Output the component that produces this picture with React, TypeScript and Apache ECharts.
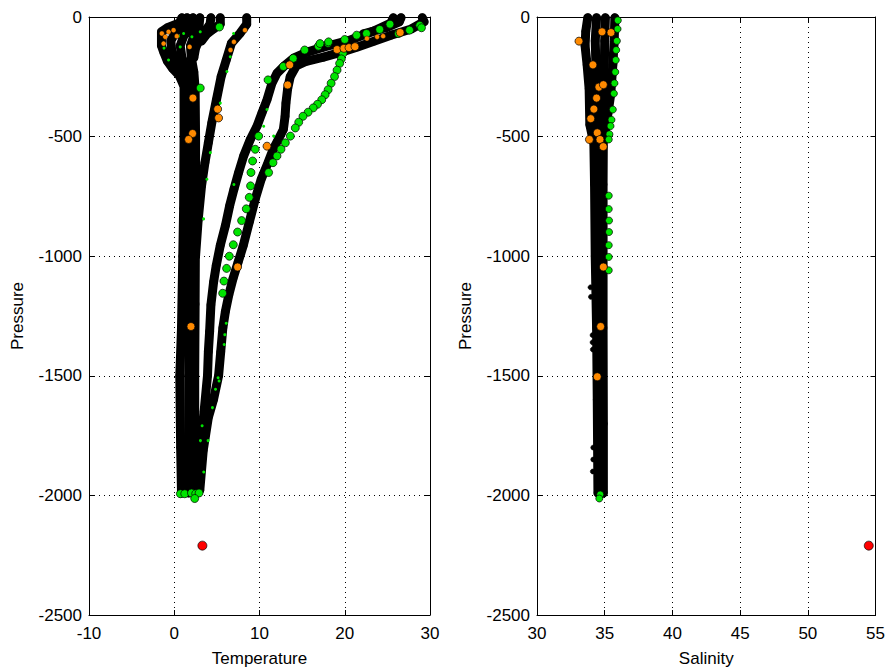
import { useEffect, useRef } from "react";
import * as echarts from "echarts";

// ---------------- Axis ranges ----------------
const tempTicks = { min: -10, max: 30, interval: 10 };
const presTicks = { min: -2500, max: 0, interval: 500 };
const salTicks = { min: 30, max: 55, interval: 5 };

// ---------------- Temperature panel: [temperature °C, pressure dbar] ----------------
const coldProfile1 = [[0.9,-3],[0.6,-25],[-0.8,-45],[-1.5,-62],[-1.5,-120],[-1.2,-150],[-0.8,-185],[-0.2,-215],[0.6,-245],[1.15,-290],[1.15,-500],[1.1,-800],[1.0,-1000],[0.85,-1300],[0.65,-1500],[0.75,-1800],[0.85,-1990]];
const coldProfile2 = [[1.5,-3],[1.2,-30],[0.2,-60],[-0.4,-100],[-0.3,-140],[0.3,-190],[1.3,-240],[1.8,-300],[1.8,-600],[1.8,-1000],[1.7,-1500],[1.7,-1990]];
const coldProfile3 = [[2.2,-3],[2.0,-40],[1.1,-80],[0.7,-120],[0.9,-170],[1.5,-220],[2.0,-280]];
const coldProfile4 = [[3.0,-3],[2.9,-40],[2.3,-80],[1.9,-120],[2.0,-170],[2.3,-230],[2.45,-300],[2.5,-500],[2.5,-800],[2.45,-1200],[2.4,-1500],[2.4,-1990]];
const coldProfile5 = [[4.3,-3],[4.2,-30],[3.6,-60],[3.0,-90],[2.5,-130],[2.3,-170]];
const coldProfile6 = [[5.4,-3],[5.4,-30],[4.6,-50],[3.8,-72],[3.2,-100]];
const midProfile = [[8.5,-3],[8.5,-30],[7.7,-69],[6.7,-110],[6.1,-180],[5.5,-249],[4.95,-346],[4.4,-443],[4.0,-526],[3.6,-609],[3.2,-706],[2.8,-850],[2.5,-1000]];
const warmProfile1 = [[25.7,-3],[25.4,-25],[23.2,-62],[20.5,-98],[17.5,-126],[15.5,-148],[14.0,-172],[12.9,-205],[12.05,-235],[11.46,-277],[10.88,-346],[10.29,-401],[9.7,-457],[8.92,-512],[8.14,-581],[7.55,-650],[7.0,-720],[6.5,-789],[6.0,-872],[5.4,-955],[4.93,-1038],[4.62,-1107],[4.3,-1204],[4.15,-1314],[4.0,-1400],[3.9,-1500],[3.5,-1650],[3.0,-1812],[2.6,-1978]];
const warmProfile2 = [[29.1,-3],[29.3,-20],[27.8,-50],[25.5,-75],[23.5,-100],[21.5,-125],[19.5,-148],[17.5,-168],[15.5,-185],[14.3,-205],[13.6,-250],[13.3,-300],[13.1,-360],[13.0,-415],[12.8,-470],[12.2,-512],[11.6,-553],[11.0,-609],[10.2,-678],[9.5,-761],[8.8,-858],[8.1,-955],[7.5,-1024],[6.9,-1093],[6.4,-1162],[6.0,-1231],[5.7,-1300],[5.45,-1400],[5.2,-1500],[4.6,-1600],[4.0,-1674],[3.4,-1812],[3.0,-1978]];
const warmProfile3 = [[26.6,-3],[26.4,-20],[24.8,-45],[22.2,-70]];

const greenTemp = [
  [16.9,-122],[18.05,-110],[20.0,-94],[21.4,-76],[22.55,-69],[24.1,-52],[25.3,-30],[26.3,-69],[27.6,-55],[28.8,-35],[29.0,-45],[17.1,-111],[18.1,-104],
  [19.8,-152],[19.6,-175],[19.4,-194],[19.1,-222],[18.8,-249],[18.4,-277],[18.05,-304],[17.7,-325],[17.3,-346],[16.8,-365],[16.3,-380],[15.7,-398],[15.1,-415],[14.6,-440],[14.2,-464],[13.62,-498],[13.03,-526],[12.52,-553],[12.05,-581],[11.58,-609],[11.07,-650],
  [9.9,-498],[9.5,-553],[9.19,-602],[9.0,-650],[8.95,-706],[8.8,-754],[8.45,-802],[7.9,-851],[7.43,-899],[6.93,-952],[6.46,-1000],[6.14,-1051],[5.83,-1104],[5.68,-1155],
  [5.3,-42],[3.05,-297],[15.3,-138],[13.95,-173],[12.8,-207],[11.0,-263],
  [0.72,-1993],[1.23,-1993],[2.02,-1990],[2.52,-1993],[2.91,-1990],[2.4,-2013],
];
const greenSpecksTemp = [
  [6.96,-69],[6.57,-166],[6.18,-228],[5.4,-360],[4.23,-567],[3.83,-678],[3.44,-844],
  [1.1,-69],[2.07,-83],[3.05,-62],[0.7,-125],[-0.67,-180],[-1.2,-130],[0.5,-80],
  [10.88,-387],[10.49,-457],[11.66,-498],[7.0,-700],
  [6.1,-1280],[5.93,-1328],[5.86,-1369],[5.14,-1508],[5.26,-1522],[4.84,-1556],[4.48,-1633],[3.27,-1709],[3.07,-1771],[3.97,-1771],[3.46,-1902],
];
const orangeTemp = [[26.5,-65],[19.1,-136],[19.9,-131],[20.5,-128],[21.2,-124],[13.54,-200],[13.3,-284],[10.88,-540],[7.43,-1045],[2.19,-339],[2.15,-487],[1.68,-512],[5.09,-385],[5.2,-422],[1.96,-1294]];
const orangeSmallTemp = [[-1.45,-69],[-1.06,-83],[-0.67,-62],[-0.08,-55],[-1.25,-111],[8.3,-55],[7.0,-104],[6.6,-138],[22.6,-90],[23.8,-83],[24.5,-80],[1.8,-125],[0.3,-80]];
const redTemp = [[3.3,-2210]];

// ---------------- Salinity panel: [salinity, pressure dbar] ----------------
const salProfile1 = [[33.75,-3],[33.6,-60],[33.55,-120],[33.7,-200],[33.85,-300],[33.9,-450],[34.2,-530],[34.25,-700],[34.3,-1000],[34.4,-1300],[34.45,-1600],[34.5,-1990]];
const salProfile2 = [[34.4,-3],[34.3,-100],[34.4,-300],[34.5,-500],[34.7,-600],[34.75,-1000],[34.8,-1500],[34.85,-1990]];
const salProfile3 = [[35.05,-3],[35.0,-100],[34.95,-300],[34.9,-500],[34.88,-700],[34.88,-1300],[34.9,-1700],[34.9,-1990]];
const salProfile4 = [[35.75,-3],[35.7,-100],[35.6,-200],[35.45,-320],[35.2,-420],[35.0,-500]];
const salBlackDots = [[33.95,-1130],[33.98,-1170],[34.1,-1330],[34.1,-1360],[34.12,-1390],[34.15,-1800],[34.15,-1850],[34.12,-1900]];
const greenSal = [[35.97,-14],[35.95,-50],[35.9,-100],[35.85,-138],[35.82,-180],[35.78,-230],[35.72,-277],[35.68,-320],[35.6,-387],[35.5,-430],[35.43,-456],[35.35,-490],[35.3,-512],[35.3,-747],[35.3,-803],[35.32,-851],[35.32,-899],[35.3,-954],[35.3,-1003],[35.3,-1059],[34.67,-1996],[34.6,-2013]];
const orangeSal = [[33.1,-101],[35.46,-65],[34.8,-62],[34.13,-200],[34.57,-293],[34.9,-283],[34.4,-339],[34.2,-385],[33.97,-425],[34.45,-484],[33.87,-512],[34.65,-512],[34.89,-542],[34.9,-1045],[34.7,-1294],[34.45,-1504]];
const redSal = [[54.5,-2210]];

const FONT = '"Liberation Sans", Arial, Helvetica, sans-serif';
const GREEN = "#00e400";
const ORANGE = "#ff8a00";
const RED = "#ff0000";

function blackLine(data: number[][], ax: number) {
  return {
    type: "line", xAxisIndex: ax, yAxisIndex: ax, data, silent: true, clip: false,
    symbol: "circle", symbolSize: 8, showSymbol: true, showAllSymbol: true,
    itemStyle: { color: "#000", borderColor: "#000", borderWidth: 0.5 },
    lineStyle: { color: "#000", width: 9, cap: "round", join: "round" },
    z: 2,
  };
}
function dots(data: number[][], ax: number, color: string, size: number, border = 0.7, z = 3) {
  return {
    type: "scatter", xAxisIndex: ax, yAxisIndex: ax, data, silent: true, clip: false,
    symbol: "circle", symbolSize: size,
    itemStyle: { color, borderColor: "#000", borderWidth: border, opacity: 1 },
    z,
  };
}

const plainNum = (v: number) => String(v);

function xAxes(grid: number, range: any, name: string) {
  const common = {
    gridIndex: grid, type: "value", min: range.min, max: range.max, interval: range.interval,
    axisLine: { show: true, onZero: false, lineStyle: { color: "#000", width: 1 } },
    axisTick: { show: true, inside: true, length: 5, lineStyle: { color: "#000" } },
  };
  return [
    {
      ...common, position: "bottom", name, nameLocation: "middle", nameGap: 35,
      nameTextStyle: { color: "#000", fontFamily: FONT, fontSize: 17 },
      axisLabel: { color: "#000", fontFamily: FONT, fontSize: 17, margin: 10, showMinLabel: true, showMaxLabel: true, formatter: plainNum },
      splitLine: { show: true, lineStyle: { color: "#000", type: [1, 4], width: 1 } },
    },
    { ...common, position: "top", axisLabel: { show: false }, splitLine: { show: false } },
  ];
}
function yAxes(grid: number) {
  const common = {
    gridIndex: grid, type: "value", min: presTicks.min, max: presTicks.max, interval: presTicks.interval,
    axisLine: { show: true, onZero: false, lineStyle: { color: "#000", width: 1 } },
    axisTick: { show: true, inside: true, length: 5, lineStyle: { color: "#000" } },
  };
  return [
    {
      ...common, position: "left", name: "Pressure", nameLocation: "middle", nameGap: 63,
      nameTextStyle: { color: "#000", fontFamily: FONT, fontSize: 17 },
      axisLabel: { color: "#000", fontFamily: FONT, fontSize: 17, margin: 7, showMinLabel: true, showMaxLabel: true, formatter: plainNum },
      splitLine: { show: true, lineStyle: { color: "#000", type: [1, 4], width: 1 } },
    },
    { ...common, position: "right", axisLabel: { show: false }, splitLine: { show: false } },
  ];
}

export default function App() {
  const ref = useRef<HTMLDivElement>(null);
  useEffect(() => {
    if (!ref.current) return;
    const chart = echarts.init(ref.current, undefined, { renderer: "svg" });
    const xs = [...xAxes(0, tempTicks, "Temperature"), ...xAxes(1, salTicks, "Salinity")];
    const ys = [...yAxes(0), ...yAxes(1)];
    const tempBlack = [coldProfile1, coldProfile2, coldProfile3, coldProfile4, coldProfile5, coldProfile6, midProfile, warmProfile1, warmProfile2, warmProfile3];
    const salBlack = [salProfile1, salProfile2, salProfile3, salProfile4];
    chart.setOption({
      animation: false,
      backgroundColor: "#fff",
      grid: [
        { left: 89, top: 17, width: 341, height: 602, containLabel: false },
        { left: 537, top: 17, width: 341, height: 602, containLabel: false },
      ],
      xAxis: xs,
      yAxis: ys,
      series: [
        ...tempBlack.map((d) => blackLine(d, 0)),
        ...salBlack.map((d) => blackLine(d, 2)),
        dots(salBlackDots, 2, "#000", 5, 0.5, 2),
        dots(greenSpecksTemp, 0, GREEN, 3, 0, 3),
        dots(greenTemp, 0, GREEN, 8),
        dots(greenSal, 2, GREEN, 7),
        dots(orangeSmallTemp, 0, ORANGE, 5, 0.4),
        dots(orangeTemp, 0, ORANGE, 8),
        dots(orangeSal, 2, ORANGE, 8),
        dots(redTemp, 0, RED, 9),
        dots(redSal, 2, RED, 9),
      ],
    });
    return () => chart.dispose();
  }, []);
  return (
    <div
      ref={ref}
      style={{ position: "fixed", left: 0, top: 0, width: 888, height: 672, background: "#fff" }}
    />
  );
}
